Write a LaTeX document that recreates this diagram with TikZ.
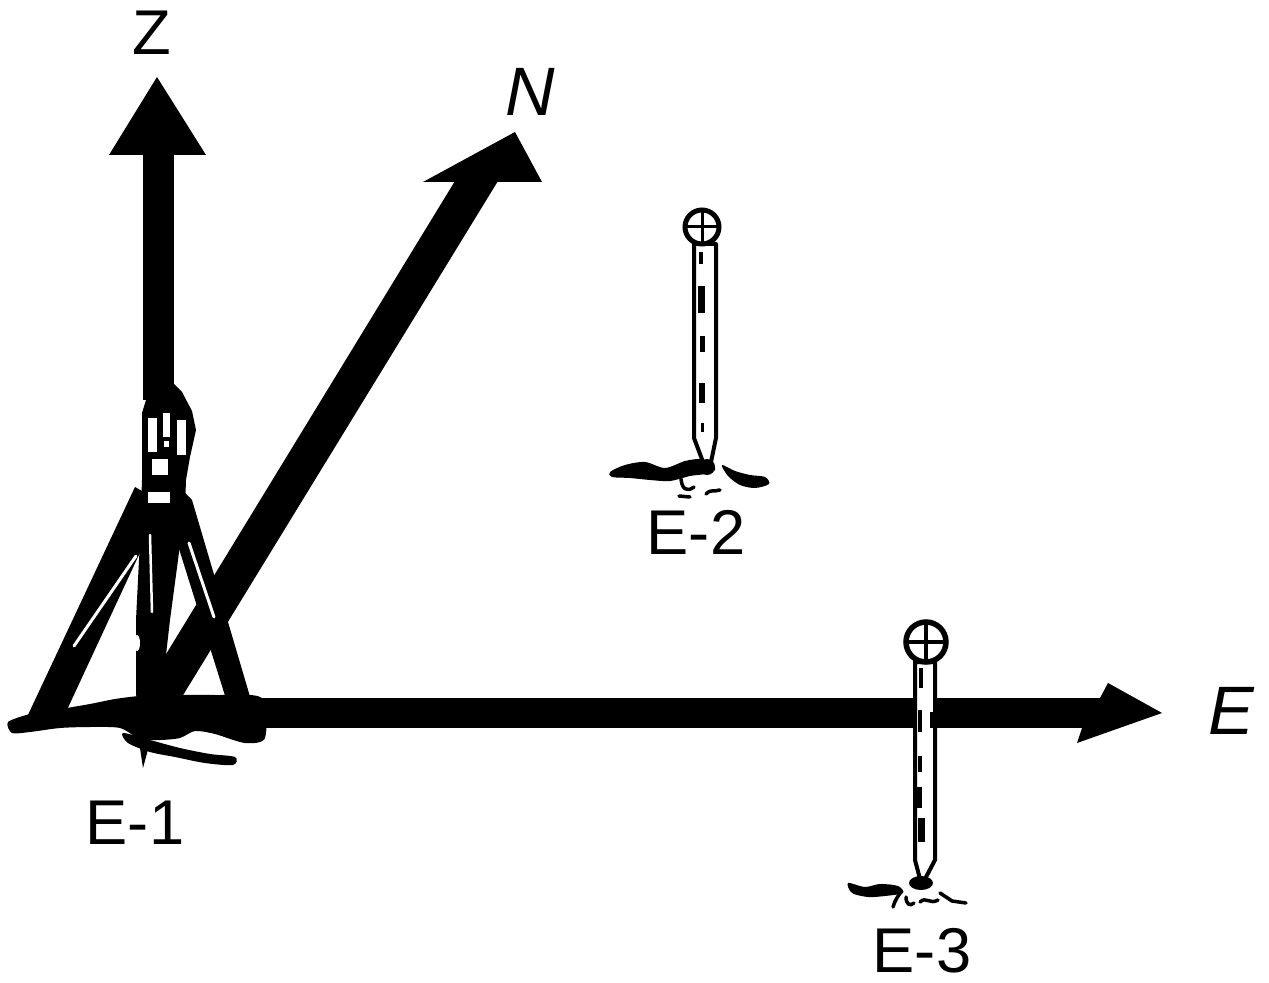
\documentclass[tikz,border=0pt]{standalone}
\usepackage{fontspec}
\setmainfont{Liberation Sans}
\begin{document}
\begin{tikzpicture}[x=0.02cm,y=-0.02cm,
  ink/.style={fill=black},
  gap/.style={draw=white,line width=0.06cm,line cap=round},
  stake/.style={draw=black,fill=white,line width=0.08cm,line join=round},
  polemark/.style={fill=black},
  scribble/.style={draw=black,line width=0.07cm,line cap=round,line join=round},
  lbl/.style={font=\fontsize{36}{40}\selectfont,inner sep=0pt},
  axislbl/.style={font=\fontsize{36}{40}\selectfont,inner sep=0pt},
  axisital/.style={font=\fontsize{39}{44}\selectfont\itshape,inner sep=0pt},
]
\useasboundingbox (0,0) rectangle (1269,983);

% ---------- axes ----------
% Z (vertical)
\fill[ink] (143,150) rectangle (174,400);
\fill[ink] (157,77) -- (206,155) -- (109,155) -- cycle;
% N (oblique)
\fill[ink] (455,181) -- (498,181) -- (177,705) -- (135,705) -- cycle;
\fill[ink] (515,132) -- (542,182) -- (423,182) -- cycle;
% E (horizontal)
\fill[ink] (215,698) rectangle (1102,728);
\fill[ink] (1100,698) -- (1108,683) -- (1162,713) -- (1077,743) -- (1082,728) -- cycle;

% ---------- station E-1: tripod and instrument ----------
% ground patch
\fill[ink] plot[smooth cycle,tension=0.45] coordinates {
  (8,722) (30,714) (55,710) (90,704) (115,699) (140,696) (175,695)
  (215,695) (262,698) (265,738) (245,743) (215,734) (195,731)
  (180,738) (160,740) (140,739) (120,728) (90,727) (60,728) (30,732) (12,733)};
\fill[ink] plot[smooth cycle,tension=0.5] coordinates {
  (123,733) (150,740) (180,748) (210,754) (235,757) (233,765)
  (205,763) (175,757) (150,752) (128,743)};
% legs
\fill[ink] (135,487) -- (163,503) -- (66,712) -- (27,717) -- cycle;
\draw[gap] (136,556) -- (74,646);
\fill[ink] (143,498) -- (186,498) -- (178,560) -- (170,620) -- (162,690)
  -- (152,735) -- (143,768) -- (138,735) -- (136,690) -- (136,620) -- (139,560) -- cycle;
\draw[gap,line width=0.05cm] (150,535) -- (152,612);
\fill[white] (137,643) ellipse (3 and 8);
\fill[ink] (178,486) -- (192,500) -- (251,700) -- (227,702) -- (170,520) -- cycle;
\draw[gap] (189,543) -- (214,617);
% instrument body
\fill[ink] (146,383) -- (173,383) -- (182,392) -- (192,411) -- (196,430) -- (190,457)
  -- (186,480) -- (185,508) -- (141,508) -- (142,480) -- (142,413) -- (146,400) -- cycle;
\fill[white] (148,418) rectangle (157,452);
\fill[white] (163,413) rectangle (170,437);
\fill[white] (164,441) rectangle (169,447);
\fill[white] (177,420) rectangle (186,455);
\fill[white] (152,459) rectangle (168,475);
\fill[white] (148,492) rectangle (170,503);

% ---------- station E-2: range pole ----------
\fill[ink] plot[smooth cycle,tension=0.5] coordinates {
  (610,472) (625,465) (645,462) (665,468) (685,461) (700,459) (712,462)
  (715,470) (705,474) (690,476) (670,481) (650,480) (630,478) (612,477)};
\fill[ink] plot[smooth cycle,tension=0.5] coordinates {
  (722,465) (735,471) (750,475) (765,477) (769,484) (755,488) (740,485) (728,476)};
\draw[scribble] (681,479) .. controls (682,488) and (686,493) .. (694,487);
\draw[scribble] (679,496) -- (690,497);
\draw[scribble] (706,494) .. controls (710,489) and (714,492) .. (720,490);
\draw[stake] (694,244) -- (694,438) -- (703,462) -- (711,462) -- (716,438) -- (716,244) -- cycle;
\fill[ink] (707,467) circle (8);
\fill[polemark] (699,252) rectangle (703,264);
\fill[polemark] (698,286) rectangle (705,313);
\fill[polemark] (700,336) rectangle (705,352);
\fill[polemark] (699,383) rectangle (705,403);
\fill[polemark] (701,423) rectangle (704,432);
\draw[black,line width=0.1cm,fill=white] (702,227) circle (17);
\draw[black,line width=0.06cm] (687,227) -- (717,227) (702,212) -- (702,242);

% ---------- station E-3: range pole ----------
\fill[ink] plot[smooth cycle,tension=0.5] coordinates {
  (848,883) (865,887) (880,884) (898,886) (903,893) (885,896) (868,897) (852,893)};
\draw[scribble] (893,907) .. controls (895,900) and (898,896) .. (901,892);
\draw[scribble] (906,897) .. controls (906,904) and (910,907) .. (914,903);
\draw[scribble] (920,902) .. controls (926,896) and (930,905) .. (938,900);
\draw[scribble] (940,893) -- (952,901) -- (966,903);
\draw[stake] (915,662) -- (915,860) -- (920,879) -- (925,879) -- (935,860) -- (935,662) -- cycle;
\fill[ink] (921,883) ellipse (12 and 7);
\fill[polemark] (919,668) rectangle (923,688);
\fill[polemark] (918,710) rectangle (922,732);
\fill[polemark] (930,712) rectangle (934,728);
\fill[polemark] (918,756) rectangle (922,772);
\fill[polemark] (917,787) rectangle (922,808);
\fill[polemark] (918,818) rectangle (925,842);
\draw[black,line width=0.11cm,fill=white] (926,642) circle (20);
\draw[black,line width=0.07cm] (908,642) -- (944,642) (926,624) -- (926,660);

% ---------- labels ----------
\node[axislbl] (zlabel) at (152,33) {Z};
\node[axisital] (nlabel) at (530,92) {N};
\node[axisital] (elabel) at (1231,711) {E};
\node[lbl] (e1) at (135,823) {E-1};
\node[lbl] (e2) at (696,532) {E-2};
\node[lbl] (e3) at (922,951) {E-3};
\end{tikzpicture}
\end{document}
